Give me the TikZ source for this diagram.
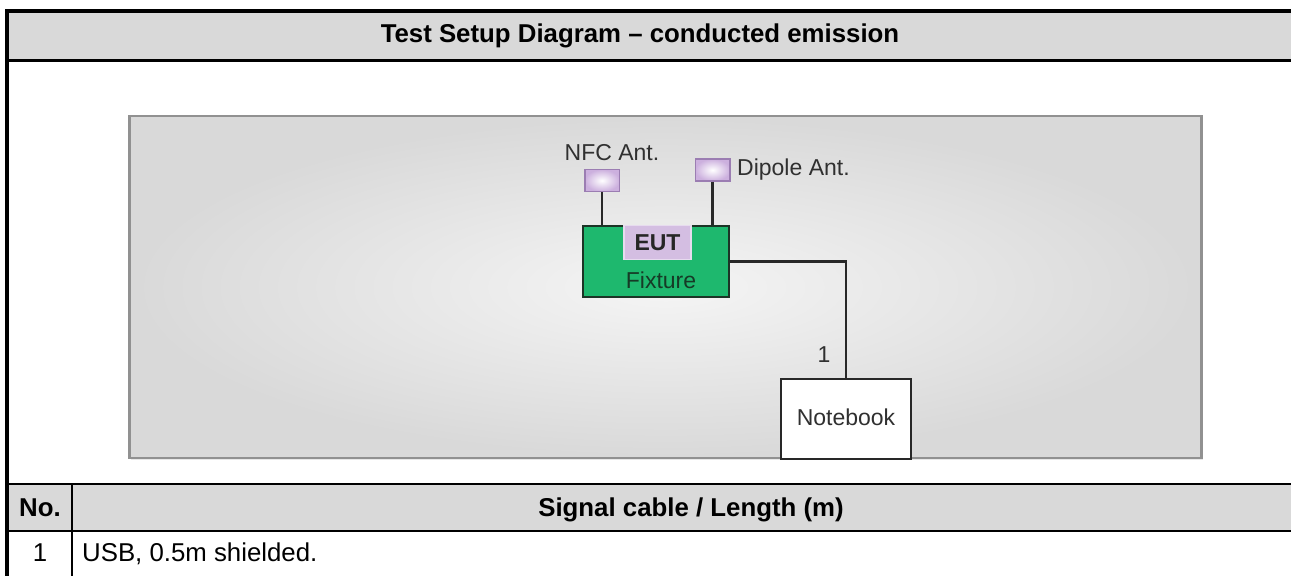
\documentclass[tikz,border=0pt]{standalone}
\usepackage{fontspec}
\setmainfont{Liberation Sans}
\usetikzlibrary{positioning,shadows}
\definecolor{hdrgray}{RGB}{217,217,217}
\definecolor{paneledge}{RGB}{145,145,145}
\definecolor{fixgreen}{RGB}{30,184,110}
\definecolor{fixedge}{RGB}{28,52,38}
\definecolor{fixtext}{RGB}{22,58,38}
\definecolor{antfill}{RGB}{204,176,222}
\definecolor{antedge}{RGB}{155,125,178}
\definecolor{eutfill}{RGB}{212,190,226}
\definecolor{wire}{RGB}{40,40,40}
\definecolor{labeltext}{RGB}{48,48,48}
\newcommand{\diagfont}{\fontsize{23}{27}\selectfont}
\newcommand{\tabfont}{\fontsize{25.8}{30}\selectfont}

\begin{document}
\begin{tikzpicture}[
    x=1pt, y=-1pt,
    hdr/.style    = {font=\tabfont\bfseries, anchor=base, inner sep=0pt},
    cell/.style   = {font=\tabfont, anchor=base, inner sep=0pt},
    rule/.style   = {line width=#1, black},
    lbl/.style    = {font=\diagfont, text=labeltext, inner sep=0pt},
    ant/.style    = {draw=antedge, line width=1.5pt, inner color=white, outer color=antfill,
                     minimum width=34.5pt, minimum height=22pt, inner sep=0pt},
    fixbox/.style = {draw=fixedge, line width=2.5pt, fill=fixgreen,
                     minimum width=146pt, minimum height=71pt, inner sep=0pt},
    eutbox/.style = {draw=eutfill!55!white, line width=1.5pt, fill=eutfill,
                     minimum width=67pt, minimum height=34pt, inner sep=0pt,
                     font=\diagfont\bfseries, text=black!85},
    pcbox/.style  = {draw=wire, line width=2.5pt, fill=white,
                     minimum width=130pt, minimum height=80pt, inner sep=0pt},
    cable/.style  = {draw=wire, line width=2.2pt},
  ]
    \useasboundingbox (0,0) rectangle (1291,576);

    % table frame
    \fill[hdrgray] (7,11) rectangle (1291,60);
    \fill[hdrgray] (7,484) rectangle (1291,531);
    \draw[rule=3.5pt] (5.25,11) -- (1291,11);
    \draw[rule=3pt]   (7,60) -- (1291,60);
    \draw[rule=2pt]   (7,484) -- (1291,484);
    \draw[rule=2.6pt] (7,531) -- (1291,531);
    \draw[rule=3.5pt] (7,9.25) -- (7,576);
    \draw[rule=2pt]   (72,484) -- (72,576);

    \node[hdr] (title) at (640,42) {Test Setup Diagram – conducted emission};
    \node[hdr] (nohdr) at (40,516) {No.};
    \node[hdr] (cblhdr) at (691,516) {Signal cable / Length (m)};
    \node[cell] (no1) at (40,561) {1};
    \node[cell, anchor=base west] (cbl1) at (82,561) {USB, 0.5m shielded.};

    % setup panel
    \draw[paneledge, line width=2.5pt, inner color=white!96!black, outer color=white!85!black,
          drop shadow={opacity=0.18, shadow xshift=1.5pt, shadow yshift=-1.5pt}]
      (129.5,116) rectangle (1201.5,458);

    \node[fixbox] (fix) at (656,261.5) {};
    \node[eutbox, anchor=north] (eut) at ([xshift=1.5pt]fix.north) {EUT};
    \node[lbl, text=fixtext, anchor=base] (fixlbl) at ([xshift=5pt, yshift=10pt]fix.south) {Fixture};

    \node[ant] (nfc) at (602,180.5) {};
    \node[ant] (dip) at (712.5,170) {};
    \node[lbl, anchor=base] (nfclbl) at (612,160) {NFC Ant.};
    \node[lbl, anchor=base west] (diplbl) at (737,175) {Dipole Ant.};

    \node[pcbox] (nb) at (846,419) {};
    \node[lbl, anchor=base] (nblbl) at (846,425) {Notebook};
    \node[lbl, anchor=base] (c1) at (824,362) {1};

    \draw[cable] (nfc.south) -- (nfc.south |- fix.north);
    \draw[cable] (dip.south) -- (dip.south |- fix.north);
    \draw[cable] (fix.east) -| (nb.north);
  \end{tikzpicture}
\end{document}
